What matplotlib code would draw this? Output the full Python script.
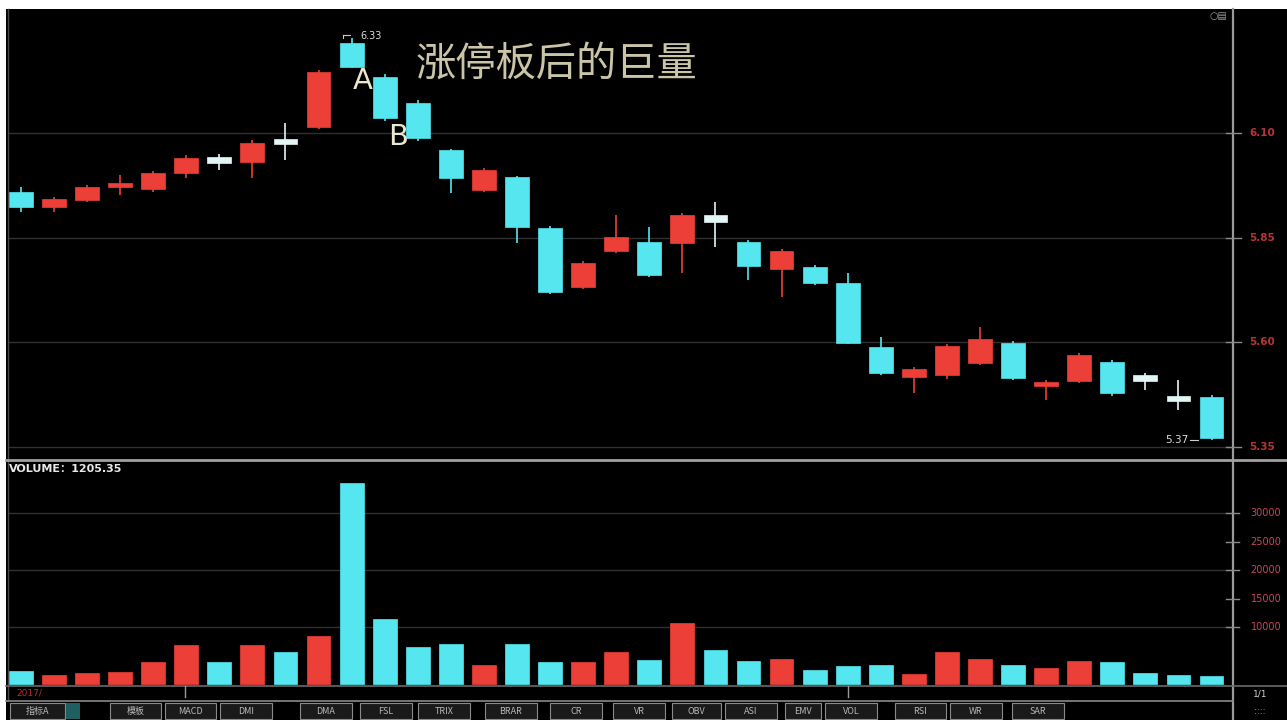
import matplotlib
matplotlib.use("Agg")
import matplotlib.pyplot as plt
from matplotlib.patches import Rectangle
from matplotlib.lines import Line2D

# ---------------- data ----------------
opens  = [5.959, 5.923, 5.940, 5.971, 5.966, 6.004, 6.043, 6.031, 6.086, 6.114,
          6.315, 6.234, 6.172, 6.059, 5.964, 5.995, 5.873, 5.732, 5.818, 5.840,
          5.837, 5.904, 5.840, 5.775, 5.780, 5.742, 5.589, 5.517, 5.522, 5.551,
          5.599, 5.496, 5.508, 5.553, 5.522, 5.472, 5.469]
closes = [5.923, 5.942, 5.971, 5.981, 6.004, 6.040, 6.028, 6.076, 6.074, 6.246,
          6.258, 6.136, 6.088, 5.992, 6.012, 5.875, 5.720, 5.790, 5.852, 5.761,
          5.904, 5.887, 5.782, 5.818, 5.742, 5.599, 5.527, 5.536, 5.591, 5.608,
          5.515, 5.505, 5.570, 5.479, 5.508, 5.460, 5.372]
highs  = [5.971, 5.947, 5.976, 5.999, 6.010, 6.047, 6.050, 6.083, 6.124, 6.250,
          6.327, 6.240, 6.178, 6.062, 6.017, 5.998, 5.878, 5.795, 5.904, 5.875,
          5.908, 5.935, 5.845, 5.823, 5.785, 5.766, 5.613, 5.541, 5.596, 5.637,
          5.604, 5.510, 5.575, 5.558, 5.527, 5.510, 5.474]
lows   = [5.911, 5.911, 5.935, 5.952, 5.960, 5.992, 6.012, 5.992, 6.036, 6.110,
          6.255, 6.130, 6.082, 5.957, 5.960, 5.837, 5.716, 5.727, 5.813, 5.757,
          5.766, 5.828, 5.749, 5.708, 5.738, 5.595, 5.522, 5.479, 5.512, 5.546,
          5.510, 5.462, 5.503, 5.472, 5.486, 5.438, 5.367]
volumes = [2280, 1580, 1930, 2110, 3860, 6840, 3860, 6840, 5610, 8420,
           35260, 11400, 6490, 7020, 3330, 7020, 3860, 3860, 5610, 4210,
           10700, 5960, 4040, 4390, 2460, 3160, 3330, 1750, 5610, 4390,
           3330, 2810, 4040, 3860, 1930, 1580, 1400]

price_ticks = [6.10, 5.85, 5.60, 5.35]
price_tick_labels = ["6.10", "5.85", "5.60", "5.35"]
vol_ticks = [30000, 25000, 20000, 15000, 10000]
vol_tick_labels = ["30000", "25000", "20000", "15000", "10000"]
vol_grid = [30000, 20000, 10000]
title_text = "涨停板后的巨量"
volume_label = "VOLUME：1205.35"
tabs = ["指标A", "模板", "MACD", "DMI", "DMA", "FSL", "TRIX", "BRAR", "CR", "VR",
        "OBV", "ASI", "EMV", "VOL", "RSI", "WR", "SAR", "KDJ", "CCI", "ROC"]

# ---------------- style ----------------
RED = "#ec3f38"
CYAN = "#55e6f0"
WHITE = "#e2f6f6"
BG = "#000000"
W, H = 1287, 720
CJK = ['Noto Sans CJK SC', 'DejaVu Sans']

plt.rcParams['font.family'] = ['DejaVu Sans', 'Noto Sans CJK SC']
fig = plt.figure(figsize=(W / 100, H / 100), dpi=100, facecolor=BG)

def fx(x): return x / W
def fy(y): return 1 - y / H

# white border strips at top/left
fig.patches.append(Rectangle((0, fy(9)), 1, 1 - fy(9), transform=fig.transFigure,
                             facecolor="white", edgecolor="none", zorder=0))
fig.patches.append(Rectangle((0, 0), fx(6), 1, transform=fig.transFigure,
                             facecolor="white", edgecolor="none", zorder=0))

n = len(opens)
idx = list(range(n))
xlim = (-0.39, 36.65)

def color_of(o, c):
    if c > o:
        return RED
    if o - c < 0.02:
        return WHITE
    return CYAN

colors = [color_of(o, c) for o, c in zip(opens, closes)]
vcolors = [RED if c > o else CYAN for o, c in zip(opens, closes)]

# ---------------- price panel ----------------
ax = fig.add_axes([fx(8), fy(459), fx(1233) - fx(8), fy(10) - fy(459)], facecolor=BG)
ax.set_xlim(*xlim)
ax.set_ylim(5.3215, 6.394)
for p in price_ticks:
    ax.axhline(p, color="#303030", lw=1.0, zorder=1)
bw = 0.72
for i in idx:
    o, c, h, l = opens[i], closes[i], highs[i], lows[i]
    col = colors[i]
    ax.vlines(i, l, h, color=col, lw=1.2, zorder=2)
    b = min(o, c)
    ht = max(abs(c - o), 0.004)
    ax.bar(i, ht, bottom=b, width=bw, color=col, edgecolor=col, lw=0.5, zorder=3)
ax.set_xticks([]); ax.set_yticks([])
for s in ax.spines.values():
    s.set_visible(False)

# high / low annotations
imax = max(idx, key=lambda i: highs[i])
imin = min(idx, key=lambda i: lows[i])
ax.plot([imax - 0.25, imax - 0.25], [highs[imax], highs[imax] + 0.008], color="#cccccc", lw=0.8, zorder=4)
ax.plot([imax - 0.25, imax - 0.05], [highs[imax] + 0.008, highs[imax] + 0.008], color="#cccccc", lw=0.8, zorder=4)
ax.text(imax + 0.25, highs[imax] + 0.004, f"{highs[imax]:.2f}", color="#dddddd", fontsize=7,
        va="center", ha="left", zorder=5)
ax.plot([imin - 0.65, imin - 0.4], [lows[imin], lows[imin]], color="#cccccc", lw=0.8, zorder=4)
ax.text(imin - 0.7, lows[imin], f"{lows[imin]:.2f}", color="#dddddd", fontsize=7.5,
        va="center", ha="right", zorder=5)

# A / B labels
ax.text(10.33, 6.225, "A", color="#ebe7cc", fontsize=21, ha="center", va="center", zorder=6)
ax.text(11.4, 6.090, "B", color="#ebe7cc", fontsize=21, ha="center", va="center", zorder=6)

fig.text(fx(416), fy(64), title_text, color="#c9c5a6", fontsize=29,
         family=CJK, ha="left", va="center")

# ---------------- volume panel ----------------
axv = fig.add_axes([fx(8), fy(685), fx(1233) - fx(8), fy(462) - fy(685)], facecolor=BG)
axv.set_xlim(*xlim)
axv.set_ylim(-175, 38950)
for v in vol_grid:
    axv.axhline(v, color="#303030", lw=1.0, zorder=1)
axv.bar(idx, volumes, width=bw, color=vcolors, edgecolor=vcolors, lw=0.5, zorder=3)
axv.set_xticks([]); axv.set_yticks([])
for s in axv.spines.values():
    s.set_visible(False)
fig.text(fx(9), fy(469), volume_label, color="#e8e8e8", fontsize=8, fontweight="bold",
         family=['DejaVu Sans', 'Noto Sans CJK SC'], ha="left", va="center")

# ---------------- frame lines ----------------
def hline(y, x0, x1, col, lw):
    fig.add_artist(Line2D([fx(x0), fx(x1)], [fy(y), fy(y)], color=col, lw=lw, transform=fig.transFigure))
def vline(x, y0, y1, col, lw):
    fig.add_artist(Line2D([fx(x), fx(x)], [fy(y0), fy(y1)], color=col, lw=lw, transform=fig.transFigure))

vline(1233, 9, 720, "#9a9a9a", 1.6)
vline(8, 9, 700, "#4a4a4a", 1.0)
hline(460, 6, W, "#a0a0a0", 2.0)
hline(686, 6, W, "#6a6a6a", 1.2)
hline(701, 6, 1233, "#8a8a8a", 1.2)

# right axis labels and ticks
for p, lab in zip(price_ticks, price_tick_labels):
    yp = ax.transData.transform((0, p))[1]
    yfig = fig.transFigure.inverted().transform((0, yp))[1]
    fig.add_artist(Line2D([fx(1226), fx(1241)], [yfig, yfig], color="#8a8a8a", lw=1.0,
                          transform=fig.transFigure))
    fig.text(fx(1262), yfig, lab, color="#b83535", fontsize=7.5, ha="center", va="center",
             fontweight="bold")
for v, lab in zip(vol_ticks, vol_tick_labels):
    yp = axv.transData.transform((0, v))[1]
    yfig = fig.transFigure.inverted().transform((0, yp))[1]
    fig.add_artist(Line2D([fx(1226), fx(1239)], [yfig, yfig], color="#8a8a8a", lw=1.0,
                          transform=fig.transFigure))
    fig.text(fx(1266), yfig, lab, color="#c84858", fontsize=7, ha="center", va="center")

fig.text(fx(1218), fy(16), "○▤", color="#9a9a9a", fontsize=7, ha="center", va="center")

# bottom date strip
fig.text(fx(16), fy(693), "2017/", color="#b03030", fontsize=6.5, ha="left", va="center")
for xm in (185, 848):
    vline(xm, 686, 697, "#9a9a9a", 1.0)

# tabs row
tab_x = [10, 110, 165, 220, 300, 360, 418, 485, 550, 613, 672, 725, 785, 825, 895, 950, 1012, 1070, 1120, 1170]
for k, (tx, t) in enumerate(zip(tab_x, tabs)):
    if k == 0:
        wtab = 55
    else:
        wtab = min(52, (tab_x[k + 1] - tx - 4) if k + 1 < len(tab_x) else 52)
    if tx + wtab > 1070:
        break
    fig.patches.append(Rectangle((fx(tx), fy(719)), fx(wtab), fy(703) - fy(719),
                                 transform=fig.transFigure, facecolor="#1a1a1a",
                                 edgecolor="#8a8a8a", lw=0.8))
    fig.text(fx(tx + wtab / 2), fy(711), t, color="#b8b8b8", fontsize=6.5,
             family=CJK, ha="center", va="center")
fig.patches.append(Rectangle((fx(66), fy(719)), fx(14), fy(703) - fy(719),
                             transform=fig.transFigure, facecolor="#1e6060", edgecolor="none"))

fig.text(fx(1260), fy(694), "1/1", color="#d0d0d0", fontsize=6.5, ha="center", va="center")
fig.text(fx(1260), fy(711), "::::", color="#b0b0b0", fontsize=6.5, ha="center", va="center")

fig.savefig("out.png", dpi=100, facecolor=BG)
